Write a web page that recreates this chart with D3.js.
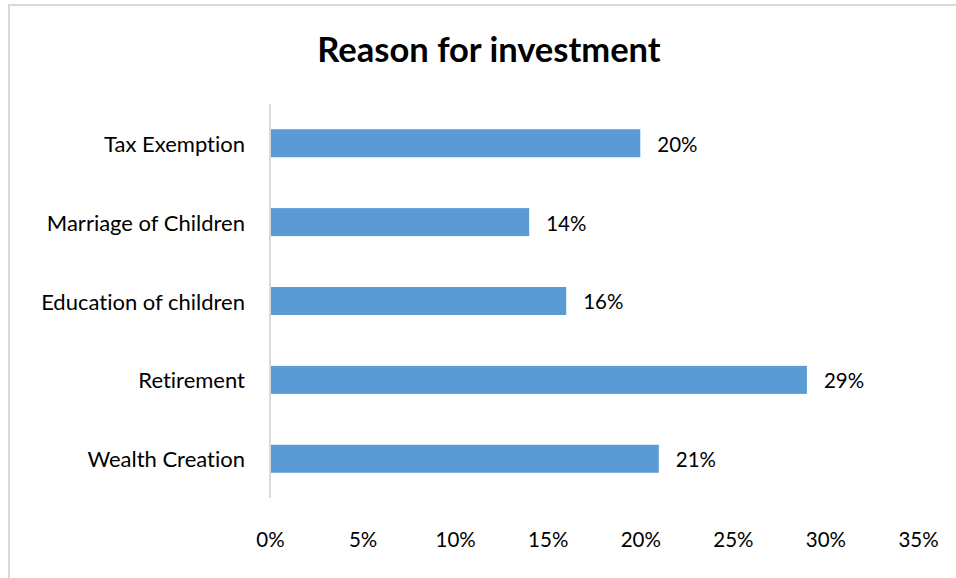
<!DOCTYPE html>
<html>
<head>
<meta charset="utf-8">
<script src="https://cdn.jsdelivr.net/npm/d3@7"></script>
<style>
  body { margin: 0; background: #fff; }
  svg { display: block; font-family: Lato, "Open Sans", sans-serif; font-variant-ligatures: none; font-feature-settings: "liga" 0, "clig" 0; }
</style>
</head>
<body>
<svg id="chart" width="956" height="578"></svg>
<script>
// chart data, top to bottom
var reasons = ["Tax Exemption", "Marriage of Children", "Education of children", "Retirement", "Wealth Creation"];
var shares = [20, 14, 16, 29, 21];
var tickValues = [0, 5, 10, 15, 20, 25, 30, 35];

var svg = d3.select("#chart");

// outer chart border (cut off at right and bottom)
svg.append("rect")
    .attr("x", 9).attr("y", 5)
    .attr("width", 980).attr("height", 600)
    .style("fill", "none")
    .style("stroke", "#d9d9d9")
    .style("stroke-width", 2);

svg.append("text")
    .attr("x", 489).attr("y", 62)
    .attr("text-anchor", "middle")
    .style("font-size", "34.5px")
    .style("font-weight", "bold")
    .text("Reason for investment");

var x = d3.scaleLinear().domain([0, 35]).range([270, 918]);
var y = d3.scaleBand().domain(reasons).range([104, 498]).paddingInner(0.645).paddingOuter(0.32);

// bars
svg.selectAll(".bar")
    .data(shares)
    .enter()
    .append("rect")
    .attr("class", "bar")
    .attr("x", x(0))
    .attr("y", function (d, i) { return y(reasons[i]) })
    .attr("width", function (d) { return x(d) - x(0) })
    .attr("height", y.bandwidth())
    .style("fill", "#5b9bd5");

// value labels
svg.selectAll(".value")
    .data(shares)
    .enter()
    .append("text")
    .attr("class", "value")
    .attr("x", function (d) { return x(d) + 17 })
    .attr("y", function (d, i) { return y(reasons[i]) + y.bandwidth() / 2 + 1 })
    .attr("dy", "0.36em")
    .style("font-size", "20.5px")
    .style("fill", "#000")
    .text(function (d) { return d + "%" });

// category axis
var yAxis = svg.append("g")
    .attr("transform", "translate(270,0)")
    .call(d3.axisLeft(y).tickSize(0).tickPadding(25));
yAxis.select(".domain").attr("d", "M0,104V498").style("stroke", "#d9d9d9").style("stroke-width", 2);
yAxis.selectAll("text")
    .attr("y", 1.5)
    .style("font-size", "22px").style("fill", "#000").style("font-family", "Lato, 'Open Sans', sans-serif");

// value axis (labels only)
var xAxis = svg.append("g")
    .attr("transform", "translate(0,529)")
    .call(d3.axisBottom(x).tickValues(tickValues).tickSize(0).tickPadding(3).tickFormat(function (d) { return d + "%" }));
xAxis.select(".domain").remove();
xAxis.selectAll("text").style("font-size", "20.5px").style("fill", "#000").style("font-family", "Lato, 'Open Sans', sans-serif");
</script>
</body>
</html>
